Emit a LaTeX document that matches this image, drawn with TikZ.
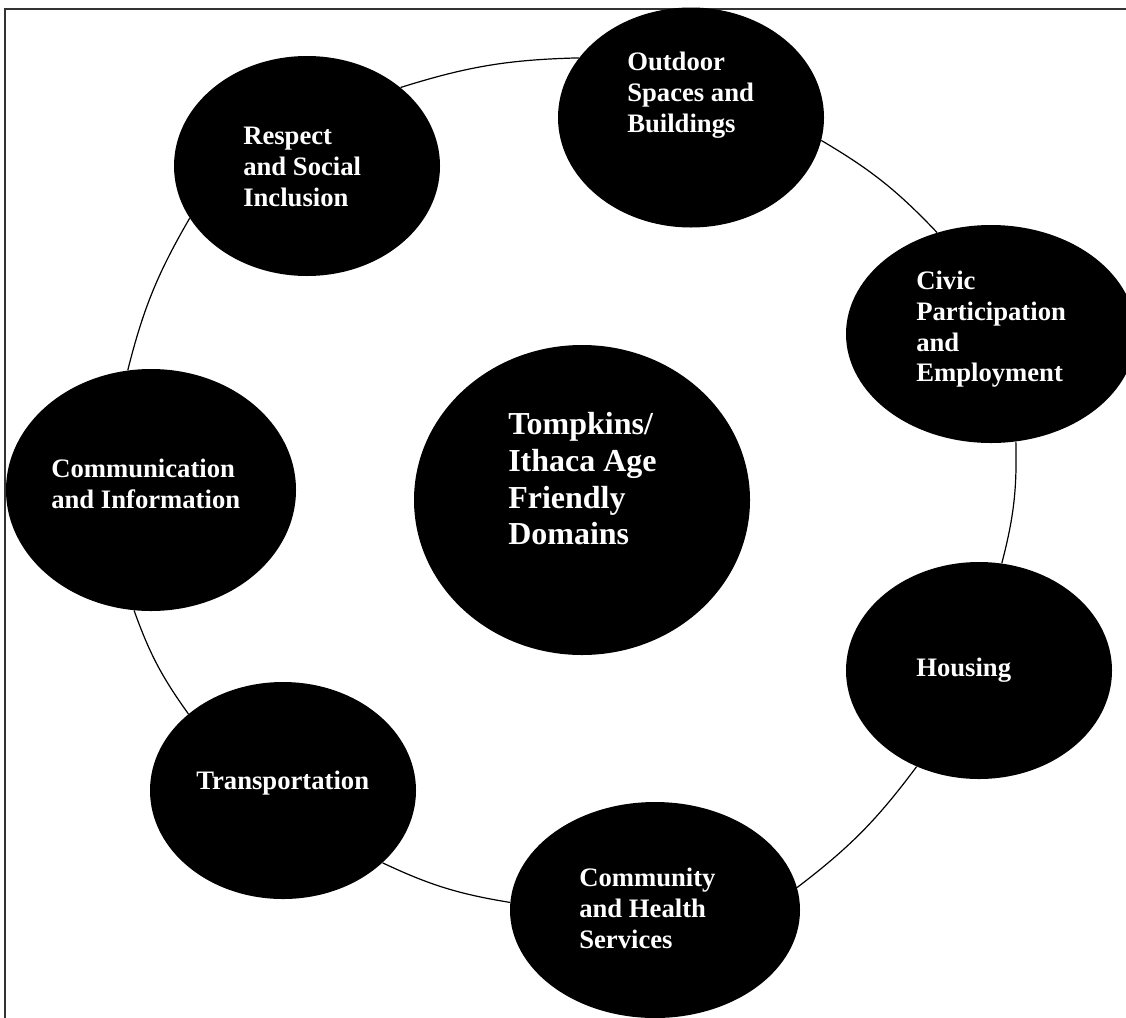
\documentclass[tikz,border=0pt]{standalone}
\usepackage{fontspec}
\setmainfont{Liberation Serif}
\usetikzlibrary{shapes.geometric}

\tikzset{
  dom/.style 2 args={ellipse, fill=black, inner sep=0pt,
    minimum width=#1*1.5pt, minimum height=#2*1.5pt},
  domtext/.style={text=white, align=left, anchor=north west, inner sep=0pt,
    font=\fontsize{20}{23}\selectfont\bfseries},
  hubtext/.style={domtext, font=\fontsize{24}{27.6}\selectfont\bfseries},
  ring/.style={line width=0.9pt},
}

\begin{document}
\begin{tikzpicture}[x=0.75pt, y=-0.75pt]
    \useasboundingbox (0,0) rectangle (1126,1017);
    \draw[line width=1.2pt, black!80] (5,9) rectangle (1150,1040);

    \node[dom={133}{110}] (respect) at (307,166) {};
    \node[dom={133}{110}] (outdoor) at (691,117.5) {};
    \node[dom={145}{109}] (civic) at (991,334) {};
    \node[dom={168}{155}] (hub) at (582,500) {};
    \node[dom={145}{121}] (commun) at (151,490) {};
    \node[dom={133}{108.5}] (housing) at (979,670.5) {};
    \node[dom={133}{108.5}] (transport) at (283,790.5) {};
    \node[dom={145}{108}] (community) at (655,910) {};

    \foreach \a/\b in {respect.40/outdoor.152, outdoor.-10/civic.118,
                       civic.-77/housing.78, housing.237/community.9,
                       community.177/transport.-36, transport.141/commun.262,
                       commun.101/respect.204} {
      \draw[ring] (\a) to[bend left=8] (\b);
    }

    \node[domtext] (respect-t) at (243,127) {Respect\\and Social\\Inclusion};
    \node[domtext] (outdoor-t) at (627,52) {Outdoor\\Spaces and\\Buildings};
    \node[domtext] (civic-t) at (916,271) {Civic\\Participation\\and\\Employment};
    \node[domtext] (commun-t) at (51,459) {Communication\\and Information};
    \node[domtext] (housing-t) at (916,658) {Housing};
    \node[domtext] (transport-t) at (196,771) {Transportation};
    \node[domtext] (community-t) at (579,868) {Community\\and Health\\Services};
    \node[hubtext] (hub-t) at (508,412) {Tompkins/\\Ithaca Age\\Friendly\\Domains};
\end{tikzpicture}
\end{document}
